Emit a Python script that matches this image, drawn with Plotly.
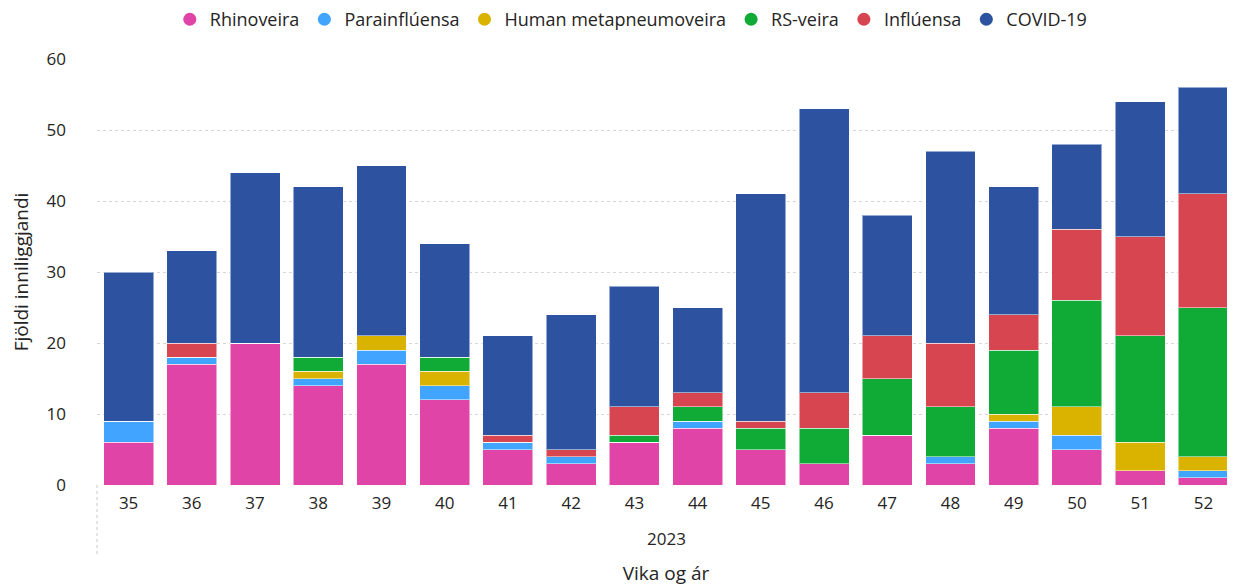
import plotly.graph_objects as go

weeks = ["35", "36", "37", "38", "39", "40", "41", "42", "43", "44", "45", "46", "47", "48", "49", "50", "51", "52"]
year_label = "2023"

rhinoveira = [6, 17, 20, 14, 17, 12, 5, 3, 6, 8, 5, 3, 7, 3, 8, 5, 2, 1]
parainfluensa = [3, 1, 0, 1, 2, 2, 1, 1, 0, 1, 0, 0, 0, 1, 1, 2, 0, 1]
hmpv = [0, 0, 0, 1, 2, 2, 0, 0, 0, 0, 0, 0, 0, 0, 1, 4, 4, 2]
rs_veira = [0, 0, 0, 2, 0, 2, 0, 0, 1, 2, 3, 5, 8, 7, 9, 15, 15, 21]
influensa = [0, 2, 0, 0, 0, 0, 1, 1, 4, 2, 1, 5, 6, 9, 5, 10, 14, 16]
covid = [21, 13, 24, 24, 24, 16, 14, 19, 17, 12, 32, 40, 17, 27, 18, 12, 19, 15]

series = [
    ("Rhinoveira", rhinoveira, "#E044A7"),
    ("Parainflúensa", parainfluensa, "#41A4FF"),
    ("Human metapneumoveira", hmpv, "#D9B300"),
    ("RS-veira", rs_veira, "#10AB36"),
    ("Inflúensa", influensa, "#D64550"),
    ("COVID-19", covid, "#2D53A0"),
]

FONT = "Open Sans, Noto Sans, sans-serif"
TXT = "#252423"

fig = go.Figure()
for name, vals, color in series:
    fig.add_trace(go.Bar(
        x=weeks, y=vals, name=name, marker_color=color,
        marker_line=dict(color="rgba(255,255,255,0.5)", width=1),
        showlegend=False, legendgroup=name,
    ))
for name, vals, color in series:
    fig.add_trace(go.Scatter(
        x=[None], y=[None], mode="markers", name=name, legendgroup=name,
        marker=dict(symbol="circle", size=13, color=color),
    ))

fig.update_layout(
    width=1227, height=578,
    barmode="stack", bargap=0.21,
    plot_bgcolor="white", paper_bgcolor="white",
    margin=dict(l=89, r=0, t=51, b=101, autoexpand=False),
    font=dict(family=FONT, size=17, color=TXT),
    legend=dict(orientation="h", x=0.508, xanchor="center", y=0.98, yanchor="middle",
                yref="container", xref="container",
                traceorder="normal", font=dict(size=18, color=TXT),
                itemwidth=30, tracegroupgap=0, bgcolor="rgba(0,0,0,0)"),
    xaxis=dict(type="category", showgrid=False, showline=False, ticks="", automargin=False,
               tickfont=dict(size=17, color=TXT), range=[-0.5, 17.5], ticklabelstandoff=6,
               title=dict(text="Vika og ár", font=dict(size=19, color=TXT), standoff=53)),
    yaxis=dict(range=[0, 60], dtick=10, showgrid=True, gridcolor="#D6D6D6", griddash="dot",
               gridwidth=1, zeroline=False, showline=False, automargin=False,
               tickfont=dict(size=17, color=TXT), ticklabelstandoff=30,
               title=dict(text="Fjöldi inniliggjandi", font=dict(size=19, color=TXT), standoff=14)),
)

fig.add_annotation(text=year_label, xref="paper", yref="paper", x=0.5, y=-0.125,
                   showarrow=False, font=dict(size=17, color=TXT), xanchor="center", yanchor="middle")
fig.add_shape(type="line", xref="paper", yref="paper", x0=0, x1=0, y0=0, y1=-0.165,
              line=dict(color="#C8C8C8", width=1, dash="dot"))

fig.write_html("out.html")
